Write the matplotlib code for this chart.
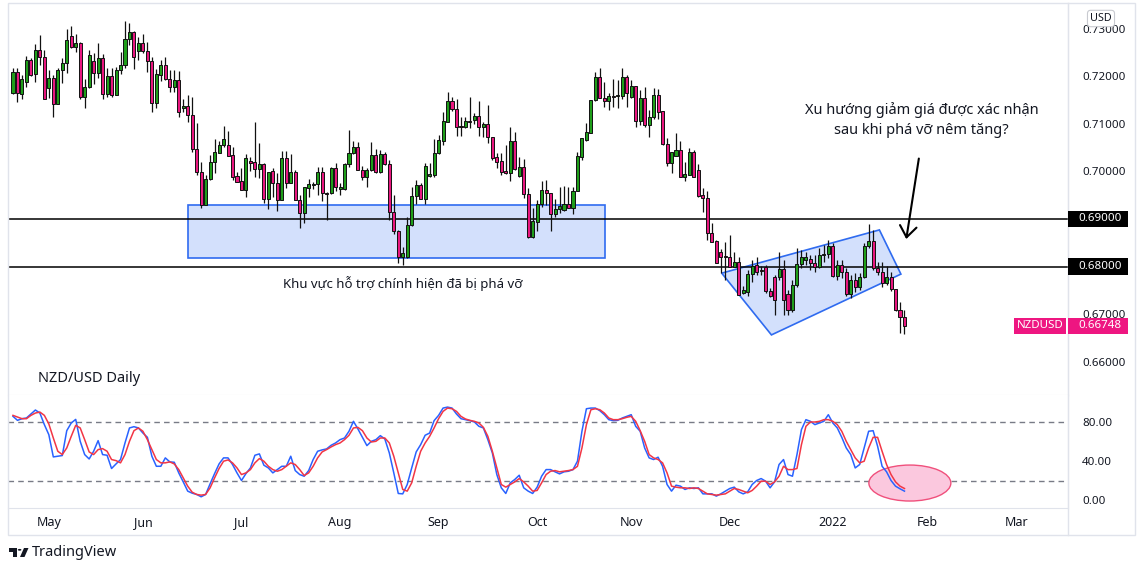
import numpy as np
import matplotlib
matplotlib.use('Agg')
import matplotlib.pyplot as plt
from matplotlib.patches import Rectangle, Polygon, Ellipse, Circle

plt.rcParams['font.family'] = ['Noto Sans', 'DejaVu Sans']

# NZD/USD daily candles, 2021-04-21 .. 2022-01-25 (one entry per trading day)
opens = [
    .7165, .7209, .7163, .7188, .7235, .7205, .7256, .7241, .7176, .7197,
    .7142, .7214, .7228, .7285, .7262, .7270, .7156, .7177, .7232, .7207,
    .7238, .7164, .7200, .7160, .7213, .7224, .7278, .7293, .7254, .7270,
    .7254, .7232, .7144, .7203, .7224, .7195, .7177, .7193, .7134, .7138,
    .7119, .7047, .6999, .6929, .6984, .7019, .7039, .7055, .7055, .7034,
    .6990, .6980, .6962, .7022, .7019, .7006, .7015, .6943, .7001, .6975,
    .6940, .7028, .6975, .6998, .6941, .6913, .6965, .6971, .6973, .6998,
    .6955, .6954, .7007, .6964, .6963, .7015, .7038, .7051, .7003, .6989,
    .7004, .7034, .6999, .7036, .7016, .6915, .6875, .6820, .6819, .6887,
    .6948, .6972, .6942, .6991, .6993, .7038, .7065, .7105, .7149, .7131,
    .7096, .7094, .7106, .7108, .7117, .7094, .7101, .7072, .7030, .7022,
    .7001, .6996, .7064, .6990, .7010, .6952, .6862, .6894, .6931, .6961,
    .6954, .6910, .6921, .6919, .6932, .6923, .6959, .7031, .7066, .7082,
    .7151, .7198, .7154, .7149, .7159, .7158, .7159, .7199, .7157, .7180,
    .7107, .7154, .7098, .7114, .7161, .7127, .7057, .7018, .7033, .7045,
    .6989, .6993, .7041, .7003, .6951, .6945, .6870, .6854, .6830, .6822,
    .6820, .6800, .6810, .6744, .6746, .6784, .6803, .6793, .6798, .6748,
    .6778, .6778, .6794, .6742, .6708, .6761, .6805, .6814, .6816, .6807,
    .6798, .6824, .6826, .6843, .6780, .6803, .6789, .6742, .6772, .6756,
    .6778, .6843, .6854, .6796, .6789, .6766, .6777, .6752, .6708, .6694,
]
highs = [
    .7218, .7218, .7203, .7243, .7239, .7268, .7287, .7256, .7214, .7203,
    .7218, .7239, .7300, .7306, .7289, .7273, .7194, .7256, .7249, .7270,
    .7247, .7217, .7217, .7221, .7252, .7317, .7313, .7296, .7284, .7289,
    .7273, .7241, .7215, .7235, .7241, .7214, .7214, .7212, .7152, .7161,
    .7157, .7102, .7020, .6993, .7035, .7068, .7065, .7096, .7086, .7051,
    .6999, .7007, .7037, .7031, .7104, .7059, .7017, .6999, .7008, .6996,
    .7043, .7043, .7036, .7003, .6951, .6968, .6984, .6978, .7009, .7009,
    .6957, .7009, .7018, .6975, .7017, .7087, .7064, .7063, .7011, .7007,
    .7063, .7047, .7045, .7042, .7024, .6951, .6877, .6842, .6905, .6967,
    .6982, .6975, .7017, .7017, .7068, .7077, .7126, .7168, .7157, .7152,
    .7114, .7115, .7156, .7124, .7149, .7105, .7140, .7073, .7038, .7038,
    .7056, .7093, .7084, .7031, .7026, .6965, .6923, .6941, .6980, .6982,
    .6955, .6943, .6968, .6970, .6968, .6968, .7042, .7070, .7102, .7151,
    .7209, .7218, .7189, .7165, .7194, .7193, .7217, .7203, .7193, .7180,
    .7172, .7177, .7129, .7175, .7173, .7128, .7070, .7042, .7080, .7064,
    .7021, .7050, .7045, .7015, .6965, .6958, .6892, .6855, .6836, .6852,
    .6866, .6830, .6821, .6760, .6793, .6814, .6821, .6801, .6803, .6755,
    .6782, .6831, .6814, .6751, .6772, .6839, .6835, .6831, .6824, .6824,
    .6839, .6845, .6856, .6849, .6814, .6814, .6797, .6782, .6786, .6786,
    .6849, .6889, .6877, .6809, .6809, .6801, .6788, .6752, .6725, .6708,
]
lows = [
    .7163, .7146, .7153, .7178, .7201, .7188, .7224, .7152, .7155, .7115,
    .7142, .7186, .7207, .7261, .7252, .7152, .7134, .7175, .7184, .7197,
    .7152, .7157, .7156, .7160, .7205, .7217, .7266, .7215, .7235, .7249,
    .7210, .7126, .7133, .7191, .7193, .7168, .7168, .7115, .7126, .7105,
    .7041, .6993, .6923, .6929, .6982, .6996, .7038, .7052, .7033, .6982,
    .6978, .6961, .6947, .7000, .6988, .6986, .6934, .6920, .6946, .6917,
    .6940, .6965, .6975, .6940, .6880, .6892, .6947, .6963, .6951, .6938,
    .6898, .6952, .6958, .6951, .6962, .7010, .7037, .7003, .6982, .6968,
    .7001, .6997, .6997, .7014, .6898, .6868, .6808, .6803, .6818, .6886,
    .6932, .6942, .6932, .6988, .6989, .7037, .7056, .7105, .7128, .7075,
    .7075, .7091, .7091, .7101, .7075, .7073, .7059, .7024, .7007, .6993,
    .6995, .6981, .7003, .6989, .6944, .6859, .6859, .6875, .6926, .6929,
    .6875, .6905, .6913, .6917, .6923, .6911, .6958, .7024, .7065, .7082,
    .7149, .7154, .7136, .7129, .7136, .7134, .7152, .7136, .7154, .7093,
    .7098, .7094, .7073, .7110, .7110, .7056, .7012, .6997, .7033, .6988,
    .6979, .6993, .6988, .6947, .6915, .6856, .6852, .6807, .6786, .6772,
    .6800, .6798, .6740, .6743, .6737, .6768, .6782, .6782, .6744, .6736,
    .6698, .6772, .6698, .6698, .6704, .6757, .6797, .6803, .6793, .6789,
    .6797, .6809, .6818, .6778, .6772, .6776, .6738, .6734, .6746, .6751,
    .6776, .6839, .6793, .6782, .6757, .6761, .6748, .6706, .6660, .6658,
]
closes = [
    .7209, .7165, .7195, .7235, .7203, .7256, .7241, .7153, .7197, .7142,
    .7214, .7228, .7277, .7263, .7270, .7156, .7177, .7245, .7207, .7238,
    .7164, .7200, .7160, .7213, .7224, .7278, .7293, .7242, .7270, .7254,
    .7232, .7144, .7205, .7224, .7194, .7177, .7193, .7126, .7138, .7119,
    .7047, .6999, .6929, .6984, .7020, .7041, .7055, .7068, .7033, .6989,
    .6978, .6962, .7028, .7018, .7006, .7016, .6943, .6998, .6975, .6940,
    .7028, .6975, .6998, .6941, .6913, .6967, .6974, .6974, .6998, .6954,
    .6952, .7007, .6967, .6967, .7016, .7038, .7051, .7004, .6989, .7004,
    .7034, .6999, .7036, .7015, .6915, .6875, .6821, .6828, .6887, .6948,
    .6971, .6942, .7012, .6995, .7038, .7066, .7106, .7148, .7131, .7094,
    .7094, .7106, .7105, .7117, .7094, .7101, .7072, .7029, .7021, .6999,
    .6996, .7064, .7005, .7010, .6952, .6862, .6896, .6931, .6961, .6954,
    .6910, .6921, .6928, .6932, .6923, .6959, .7033, .7070, .7084, .7151,
    .7198, .7154, .7149, .7159, .7157, .7160, .7199, .7166, .7180, .7107,
    .7154, .7098, .7114, .7161, .7126, .7057, .7018, .7040, .7045, .6989,
    .6994, .7041, .6988, .6948, .6944, .6870, .6852, .6808, .6821, .6820,
    .6800, .6810, .6741, .6751, .6784, .6802, .6789, .6791, .6748, .6738,
    .6730, .6794, .6730, .6708, .6761, .6805, .6819, .6819, .6807, .6798,
    .6824, .6826, .6843, .6780, .6803, .6789, .6742, .6772, .6756, .6778,
    .6843, .6854, .6796, .6789, .6766, .6777, .6752, .6708, .6694, .66748,
]

# stochastic %K (blue) and %D (red)
stoch_k = [
    85.8, 81.7, 83.4, 84.1, 88.2, 92.3, 89.2, 77.3, 67.0, 44.2,
    44.9, 45.6, 71.1, 79.0, 82.7, 60.2, 46.6, 42.1, 50.0, 60.9,
    46.6, 45.9, 32.3, 37.0, 41.5, 58.5, 73.9, 75.2, 73.9, 68.7,
    64.3, 44.9, 34.6, 34.6, 43.2, 39.1, 38.7, 27.8, 18.6, 9.1,
    7.0, 5.7, 3.3, 5.7, 16.6, 27.1, 37.0, 43.2, 43.2, 36.4,
    27.8, 20.0, 27.1, 32.9, 45.9, 47.3, 35.7, 32.9, 27.8, 31.2,
    34.6, 34.6, 44.9, 30.2, 26.1, 24.4, 30.2, 41.5, 50.0, 51.4,
    52.4, 56.1, 58.5, 61.9, 63.6, 70.5, 80.7, 72.8, 64.3, 55.8,
    60.2, 61.9, 66.0, 62.6, 48.3, 27.8, 6.7, 6.3, 15.9, 32.9,
    49.3, 56.8, 66.4, 68.7, 81.4, 86.8, 94.3, 95.3, 94.3, 88.2,
    83.4, 82.4, 81.4, 80.0, 75.6, 73.9, 61.9, 48.3, 26.1, 12.5,
    6.7, 17.6, 21.0, 25.4, 12.5, 9.1, 6.7, 13.2, 24.4, 31.2,
    31.2, 28.9, 26.8, 28.9, 29.5, 31.2, 39.8, 70.5, 93.6, 94.3,
    94.3, 91.6, 87.5, 82.4, 81.4, 81.7, 84.1, 85.8, 87.5, 75.6,
    70.5, 53.4, 43.2, 41.5, 43.9, 34.6, 15.9, 9.1, 15.2, 14.2,
    10.8, 12.5, 11.8, 12.5, 6.3, 6.3, 6.3, 4.0, 6.3, 9.1,
    11.8, 13.2, 8.4, 6.3, 8.4, 15.9, 20.0, 22.0, 19.3, 12.5,
    18.6, 36.4, 41.5, 26.1, 24.4, 46.6, 72.2, 82.4, 80.7, 77.3,
    79.0, 80.7, 87.5, 79.0, 73.9, 64.3, 53.4, 46.6, 32.9, 36.4,
    53.4, 70.5, 71.1, 55.1, 34.6, 28.9, 20.0, 14.2, 11.5, 9.1,
]
stoch_d = [
    86.8, 85.1, 83.4, 83.4, 86.8, 89.2, 90.2, 86.8, 78.0, 63.6,
    50.0, 46.6, 53.4, 65.3, 76.6, 73.9, 61.9, 49.3, 46.6, 51.7,
    52.7, 50.0, 41.5, 40.4, 38.1, 46.6, 60.2, 71.1, 73.9, 70.5,
    61.9, 51.7, 41.5, 38.1, 38.1, 39.1, 37.0, 31.2, 22.7, 14.2,
    8.0, 5.7, 5.0, 5.7, 12.5, 22.7, 32.3, 39.8, 41.1, 38.1,
    32.9, 26.1, 27.8, 31.2, 38.1, 42.5, 39.8, 34.6, 31.2, 29.5,
    31.2, 34.6, 38.1, 36.4, 31.2, 25.1, 27.8, 34.6, 43.2, 49.3,
    51.7, 54.4, 56.8, 58.5, 61.9, 66.4, 73.9, 74.5, 71.1, 63.6,
    59.5, 60.2, 63.6, 63.6, 58.5, 44.9, 27.8, 10.8, 9.1, 17.6,
    34.6, 50.0, 58.5, 65.3, 73.9, 83.4, 90.9, 94.3, 93.6, 90.9,
    85.8, 83.1, 81.7, 80.7, 79.0, 74.5, 65.3, 50.0, 32.9, 15.9,
    13.2, 15.9, 18.6, 22.0, 18.6, 14.2, 9.1, 9.8, 17.6, 26.1,
    29.5, 30.2, 28.9, 29.5, 30.2, 31.2, 34.6, 53.4, 77.3, 92.6,
    93.6, 92.6, 89.2, 84.1, 82.4, 82.4, 83.4, 84.8, 85.8, 80.7,
    71.1, 60.2, 46.6, 43.2, 41.5, 38.1, 27.8, 14.2, 13.2, 12.5,
    12.5, 11.8, 12.5, 11.8, 9.1, 6.3, 5.7, 5.0, 5.7, 6.3,
    9.1, 11.8, 10.8, 9.1, 7.4, 9.8, 14.2, 19.3, 19.3, 15.9,
    18.6, 24.4, 34.6, 31.2, 31.2, 32.3, 56.8, 75.6, 80.0, 80.0,
    80.7, 82.4, 82.4, 80.7, 77.3, 70.5, 60.2, 51.7, 43.2, 38.1,
    39.8, 53.4, 64.3, 64.3, 50.0, 36.4, 26.1, 18.6, 14.2, 11.8,
]

month_labels = ['May', 'Jun', 'Jul', 'Aug', 'Sep', 'Oct', 'Nov', 'Dec', '2022', 'Feb', 'Mar']
month_bars = [8, 29, 51, 73, 95, 117, 138, 160, 183, 204, 224]
price_ticks = [0.66, 0.67, 0.70, 0.71, 0.72, 0.73]   # 0.68 / 0.69 sit under the level tags
stoch_ticks = [0, 40, 80]
levels = [0.69, 0.68]
last_price = 0.66748

GREEN = '#1f9e1a'
PINK = '#e8177f'
TXT = '#131722'
GRID = '#e0e3eb'

W, H = 1139, 565
fig = plt.figure(figsize=(W / 100, H / 100), dpi=100)


def fbox(x0, y0, x1, y1):
    return [x0 / W, 1 - y1 / H, (x1 - x0) / W, (y1 - y0) / H]


ax = fig.add_axes(fbox(8, 3, 1068, 395))
axs = fig.add_axes(fbox(8, 395, 1068, 508), sharex=ax)

# candles
o = np.array(opens); h = np.array(highs); l = np.array(lows); c = np.array(closes)
x = np.arange(len(c))
cols = np.where(c >= o, GREEN, PINK)
ax.vlines(x, l, h, color='#111111', lw=0.9, zorder=3)
ax.bar(x, np.maximum(np.abs(c - o), 0.00008), bottom=np.minimum(o, c), width=0.68,
       color=cols, edgecolor='#111111', linewidth=0.7, zorder=4)

for lv in levels:
    ax.axhline(lv, color='black', lw=1.1, zorder=2)

# support zone and rising wedge
ax.add_patch(Rectangle((39.1, 0.6818), 93.0, 0.0111, fc='#d3e0fc', ec='#2f6bf0',
                       lw=1.2, zorder=1))
ax.add_patch(Polygon([(158.2, 0.6786), (193.4, 0.6877), (198.2, 0.6784), (169.3, 0.6656)],
                     closed=True, fc='#d3e0fc', ec='#2f6bf0', lw=1.2, zorder=1))

ax.text(86.9, 0.6765, 'Khu vực hỗ trợ chính hiện đã bị phá vỡ', ha='center', va='center',
        fontsize=9.5, color=TXT)
ax.text(202.8, 0.7108, 'Xu hướng giảm giá được xác nhận\nsau khi phá vỡ nêm tăng?',
        ha='center', va='center', fontsize=10.5, linespacing=1.45, color=TXT)
ax.annotate('', xy=(199.3, 0.6852), xytext=(202.3, 0.7033),
            arrowprops=dict(arrowstyle='->,head_length=0.8,head_width=0.6',
                            color='black', lw=1.5))
ax.text(5.6, 0.6565, 'NZD/USD Daily', ha='left', va='center', fontsize=10.5, color=TXT)

ax.set_xlim(-1.116, 235.5)
ax.set_ylim(0.65295, 0.73547)
ax.yaxis.tick_right()
ax.set_yticks(price_ticks)
ax.set_yticklabels([f'{v:.5f}' for v in price_ticks])
ax.tick_params(axis='y', length=0, pad=10, labelsize=8.3, labelcolor=TXT)
ax.tick_params(axis='x', length=0, labelbottom=False)
for s in ['left', 'top']:
    ax.spines[s].set_visible(False)
ax.spines['right'].set_color(GRID)
ax.spines['bottom'].set_color(GRID)

# stochastic panel
for lv in [80, 20]:
    axs.axhline(lv, color='#787b86', lw=1, ls=(0, (4, 3)), zorder=1)
axs.add_patch(Ellipse((200.2, 17.4), 18.3, 36.9, fc='#fbc8de', ec='#f0507c', lw=1, zorder=2))
axs.plot(x, stoch_k, color='#2962ff', lw=1.1, zorder=3)
axs.plot(x, stoch_d, color='#f23645', lw=1.1, zorder=3)
axs.set_ylim(-8.2, 107.7)
axs.yaxis.tick_right()
axs.set_yticks(stoch_ticks)
axs.set_yticklabels([f'{v:.2f}' for v in stoch_ticks])
axs.tick_params(axis='y', length=0, pad=10, labelsize=8.3, labelcolor=TXT)
axs.set_xticks(month_bars)
axs.set_xticklabels(month_labels)
axs.tick_params(axis='x', length=0, pad=6, labelsize=9, labelcolor=TXT)
for t in axs.get_xticklabels():
    if t.get_text() == '2022':
        t.set_fontweight('bold')
for s in ['left', 'top']:
    axs.spines[s].set_visible(False)
axs.spines['right'].set_color(GRID)
axs.spines['bottom'].set_color(GRID)

# outer frame and price-scale separator
fig.add_artist(Rectangle((8 / W, 1 - 535 / H), 1127 / W, 532 / H, transform=fig.transFigure,
                         fill=False, ec=GRID, lw=1))
fig.add_artist(plt.Line2D([1068 / W, 1068 / W], [1 - 535 / H, 1 - 3 / H],
                          transform=fig.transFigure, color=GRID, lw=1))


def tag(value, text, color, x0, x1, ha='left'):
    yf = fig.transFigure.inverted().transform(ax.transData.transform((0, value)))[1]
    fig.add_artist(Rectangle((x0 / W, yf - 8.3 / H), (x1 - x0) / W, 16.6 / H,
                             transform=fig.transFigure, fc=color, ec='none', zorder=5))
    tx = (x0 + 10) / W if ha == 'left' else (x0 + x1) / 2 / W
    fig.text(tx, yf, text, color='white', fontsize=8.3, ha=ha, va='center', zorder=6)


for lv in levels:
    tag(lv, f'{lv:.5f}', 'black', 1068, 1128)
tag(last_price, f'{last_price:.5f}', '#ee1681', 1068, 1128)
tag(last_price, 'NZDUSD', '#ee1681', 1014, 1066, ha='center')

fig.text(1101 / W, 1 - 18.5 / H, 'USD', ha='center', va='center', fontsize=7.8, color=TXT,
         zorder=6, bbox=dict(boxstyle='round,pad=0.25,rounding_size=0.3', fc='white',
                             ec='#c8cad0', lw=0.8))

# TradingView mark
def px(pts):
    return [(a / W, 1 - b / H) for a, b in pts]


fig.add_artist(Polygon(px([(8.5, 548), (17, 548), (17, 557), (13, 557), (13, 551.5), (8.5, 551.5)]),
                       closed=True, transform=fig.transFigure, fc=TXT, ec='none'))
fig.add_artist(Circle((19.6 / W, 1 - 549.8 / H), 1.8 / W, transform=fig.transFigure, fc=TXT))
fig.add_artist(Polygon(px([(24, 548), (28.5, 548), (24.5, 557), (20, 557)]),
                       closed=True, transform=fig.transFigure, fc=TXT, ec='none'))
fig.text(32 / W, 1 - 552 / H, 'TradingView', fontsize=10.5, va='center', ha='left', color=TXT)

fig.savefig('out.png', dpi=100)
